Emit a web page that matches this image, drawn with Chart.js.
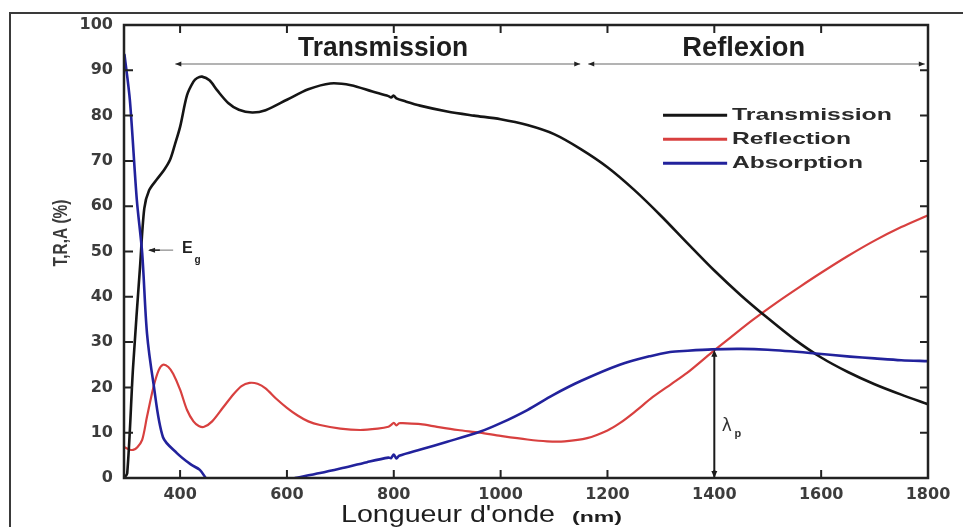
<!DOCTYPE html>
<html><head><meta charset="utf-8">
<script src="https://cdn.jsdelivr.net/npm/chart.js@4.4.1/dist/chart.umd.min.js"></script>
<style>html,body{margin:0;padding:0;background:#fff;overflow:hidden}</style>
</head><body>
<canvas id="c" width="963" height="527"></canvas>
<script>
// ---- data ----
const transWave = [295,301,312,325,333,342,357,370,381,390,
  400,413,425,432,441,455,470,490,510,535,
  560,600,640,681,720,760,790,795,800,805,
  820,849,900,950,1000,1050,1100,1150,1200,1250,
  1300,1350,1400,1450,1500,1550,1600,1650,1700,1750,1800];
const transVal = [0,1,24.5,46.6,59.5,63.5,66,68,70.2,73.5,
  77.5,84.5,87.5,88.3,88.6,87.8,85.5,82.8,81.3,80.7,
  81.2,83.5,85.8,87.1,86.7,85.3,84.3,84.0,84.4,83.8,
  83.2,82.2,80.9,80.0,79.2,77.9,75.9,72.6,68.6,63.6,
  57.9,51.8,45.8,40.3,35.3,30.6,26.6,23.4,20.7,18.4,16.3];

const reflWave = [296,305,312,320,329,338,350,360,368,378,
  387,400,413,425,435,445,460,480,500,515,
  530,545,560,580,600,620,640,662,700,737,
  770,790,795,800,805,810,817,850,881,920,
  961,1000,1050,1087,1120,1162,1200,1223,1250,1285,
  1320,1349,1396,1430,1472,1520,1560,1600,1650,1700,1750,1800];
const reflVal = [6.8,6.3,6.2,6.8,8.4,13.5,20,23.8,25,24.5,
  23,19.5,15,12.5,11.5,11.3,12.5,15.5,18.5,20.3,
  21,20.8,19.8,17.5,15.5,13.8,12.5,11.7,10.9,10.6,
  10.9,11.3,11.7,12.2,11.6,12.1,12.1,11.9,11.3,10.6,
  10,9.3,8.5,8.1,8.1,8.8,10.5,12.1,14.5,17.9,
  20.8,23.2,27.8,31,34.9,39,42.2,45.3,49,52.4,55.4,58];

const absWave = [296,306,319,329,338,350,368,394,420,437,
  448,530,615,662,700,750,790,795,800,805,
  810,850,900,961,1000,1050,1098,1150,1223,1280,
  1317,1350,1396,1450,1500,1579,1654,1700,1750,1800];
const absVal = [93.4,83.4,61.4,49.7,32,21,9,5.5,3,1.8,
  0,null,0,1.1,2.1,3.5,4.5,4.4,5.2,4.3,
  4.9,6.3,8.0,10.2,12.1,15.0,18.3,21.4,25.0,26.9,
  27.8,28.1,28.4,28.5,28.3,27.6,26.8,26.4,26.0,25.8];

const seriesNames = ['Transmission','Reflection','Absorption'];
const xTickValues = [400,600,800,1000,1200,1400,1600,1800];
const yTickValues = [0,10,20,30,40,50,60,70,80,90,100];
const regionLabels = ['Transmission','Reflexion'];
const xTitle = "Longueur d'onde";
const xUnit = '(nm)';
const yTitle = 'T,R,A (%)';

const pts = (w, v) => w.map((x, i) => ({x, y: v[i]}));

function fitText(ctx, text, x, y, font, targetW, align) {
  ctx.save();
  ctx.font = font;
  const w = ctx.measureText(text).width;
  const sx = targetW / w;
  ctx.translate(x, y);
  ctx.scale(sx, 1);
  ctx.textAlign = align || 'left';
  ctx.fillText(text, 0, 0);
  ctx.restore();
}
function head(ctx, x, y, ang, len, wid) {
  ctx.save();
  ctx.translate(x, y); ctx.rotate(ang);
  ctx.beginPath();
  ctx.moveTo(0, 0); ctx.lineTo(-len, -wid); ctx.lineTo(-len, wid); ctx.closePath();
  ctx.fill();
  ctx.restore();
}

const decor = {
  id: 'decor',
  afterDraw(chart) {
    const {ctx, chartArea: a, scales: {x, y}} = chart;
    const X = v => x.getPixelForValue(v), Y = v => y.getPixelForValue(v);
    ctx.save();
    // outer picture frame
    ctx.strokeStyle = '#3a3a3a'; ctx.lineWidth = 2;
    ctx.beginPath(); ctx.moveTo(10, 527); ctx.lineTo(10, 13); ctx.lineTo(963, 13); ctx.stroke();
    // plot frame
    ctx.strokeStyle = '#222'; ctx.lineWidth = 2.5;
    ctx.strokeRect(a.left, a.top, a.right - a.left, a.bottom - a.top);
    // inward ticks
    ctx.lineWidth = 2;
    ctx.beginPath();
    xTickValues.forEach(v => { const p = X(v);
      ctx.moveTo(p, a.bottom); ctx.lineTo(p, a.bottom - 8);
      ctx.moveTo(p, a.top); ctx.lineTo(p, a.top + 8); });
    yTickValues.forEach(v => { const p = Y(v);
      ctx.moveTo(a.left, p); ctx.lineTo(a.left + 9, p);
      ctx.moveTo(a.right, p); ctx.lineTo(a.right - 8, p); });
    ctx.stroke();

    // region arrows
    const ay = Y(91.4);
    ctx.strokeStyle = '#9a9a9a'; ctx.lineWidth = 1.5;
    ctx.beginPath();
    ctx.moveTo(X(391), ay); ctx.lineTo(X(1149), ay);
    ctx.moveTo(X(1164), ay); ctx.lineTo(X(1794), ay);
    ctx.stroke();
    ctx.fillStyle = '#222';
    head(ctx, X(391), ay, Math.PI, 6, 2.5);
    head(ctx, X(1149), ay, 0, 6, 2.5);
    head(ctx, X(1164), ay, Math.PI, 6, 2.5);
    head(ctx, X(1794), ay, 0, 6, 2.5);
    // region labels
    ctx.fillStyle = '#1e1e1e';
    ctx.textBaseline = 'alphabetic';
    fitText(ctx, regionLabels[0], X(780), Y(93.1), 'bold 27px "Liberation Sans"', 170, 'center');
    fitText(ctx, regionLabels[1], X(1455), Y(93.1), 'bold 27px "Liberation Sans"', 123, 'center');

    // legend
    const ds = chart.data.datasets;
    const legY = [80.1, 74.8, 69.5];
    const legW = [160, 119, 131];
    ds.forEach((d, i) => {
      const ly = Y(legY[i]);
      ctx.strokeStyle = d.borderColor; ctx.lineWidth = 3;
      ctx.beginPath(); ctx.moveTo(X(1304), ly); ctx.lineTo(X(1424), ly); ctx.stroke();
      ctx.fillStyle = '#2a2a2a'; ctx.textBaseline = 'middle';
      fitText(ctx, d.label, X(1433), ly, 'bold 16.5px "Liberation Sans"', legW[i], 'left');
    });

    // E_g annotation
    const ey = Y(50.3);
    ctx.strokeStyle = '#888'; ctx.lineWidth = 1.2;
    ctx.beginPath(); ctx.moveTo(X(387), ey); ctx.lineTo(X(360), ey); ctx.stroke();
    ctx.strokeStyle = '#222'; ctx.lineWidth = 1.6;
    ctx.beginPath(); ctx.moveTo(X(362), ey); ctx.lineTo(X(343), ey); ctx.stroke();
    ctx.fillStyle = '#222';
    head(ctx, X(340), ey, Math.PI, 7, 2.5);
    ctx.textBaseline = 'alphabetic';
    ctx.font = 'bold 16px "Liberation Sans"'; ctx.textAlign = 'left';
    ctx.fillText('E', X(403.5), Y(49.7));
    ctx.font = 'bold 10px "Liberation Sans"';
    ctx.fillText('g', X(427), Y(47.5));

    // lambda_p double arrow
    const lx = X(1400);
    ctx.strokeStyle = '#1a1a1a'; ctx.lineWidth = 2;
    ctx.beginPath(); ctx.moveTo(lx, Y(28.3) + 4); ctx.lineTo(lx, a.bottom - 5); ctx.stroke();
    ctx.fillStyle = '#1a1a1a';
    head(ctx, lx, Y(28.3), -Math.PI / 2, 7, 3);
    head(ctx, lx, a.bottom, Math.PI / 2, 7, 3);
    ctx.fillStyle = '#333';
    ctx.font = '17px "DejaVu Sans"';
    ctx.fillText('λ', X(1414), Y(10.4));
    ctx.font = 'bold 11px "Liberation Sans"';
    ctx.fillText('p', X(1438), Y(9.0));

    // axis titles
    ctx.fillStyle = '#1e1e1e';
    ctx.textBaseline = 'alphabetic';
    fitText(ctx, xTitle, 341, 522, '24px "Liberation Sans"', 214, 'left');
    fitText(ctx, xUnit, 572, 522, 'bold 14px "Liberation Sans"', 50, 'left');
    ctx.save();
    ctx.translate(61, 233); ctx.rotate(-Math.PI / 2);
    ctx.scale(1, 1.35);
    ctx.fillStyle = '#3a3a3a';
    ctx.font = 'bold 15px "Liberation Sans"';
    const tw = ctx.measureText(yTitle).width;
    ctx.save(); ctx.scale(67 / tw, 1);
    ctx.textAlign = 'center'; ctx.textBaseline = 'middle';
    ctx.fillText(yTitle, 0, 0);
    ctx.restore();
    ctx.restore();
    ctx.restore();
  }
};

const tickFont = {family: '"DejaVu Sans"', weight: 'bold', size: 16};
new Chart(document.getElementById('c'), {
  type: 'line',
  data: {
    datasets: [
      {label: seriesNames[0], data: pts(transWave, transVal), borderColor: '#151515', borderWidth: 2.6, order: 1},
      {label: seriesNames[1], data: pts(reflWave, reflVal), borderColor: '#d8403f', borderWidth: 2.2, order: 2},
      {label: seriesNames[2], data: pts(absWave, absVal), borderColor: '#22229c', borderWidth: 2.6, order: 0}
    ]
  },
  options: {
    responsive: false, animation: false, devicePixelRatio: 1,
    parsing: true, spanGaps: false,
    elements: {point: {radius: 0}, line: {tension: 0.3, fill: false, borderJoinStyle: 'round', borderCapStyle: 'round'}},
    layout: {padding: {left: 0, top: 25, right: 35, bottom: 0}},
    plugins: {legend: {display: false}, tooltip: {enabled: false}},
    scales: {
      x: {
        type: 'linear', min: 295, max: 1800,
        afterBuildTicks: s => { s.ticks = xTickValues.map(v => ({value: v})); },
        afterFit: s => { s.height = 49; },
        ticks: {font: tickFont, color: '#3c3c3c', padding: 7, maxRotation: 0, autoSkip: false,
                callback: v => String(v)},
        grid: {drawOnChartArea: false, drawTicks: false},
        border: {display: false}
      },
      y: {
        min: 0, max: 100,
        afterBuildTicks: s => { s.ticks = yTickValues.map(v => ({value: v})); },
        afterFit: s => { s.width = 124; },
        ticks: {font: tickFont, color: '#3c3c3c', padding: 11, autoSkip: false,
                callback: v => String(v)},
        grid: {drawOnChartArea: false, drawTicks: false},
        border: {display: false}
      }
    }
  },
  plugins: [decor]
});
</script>
</body></html>
